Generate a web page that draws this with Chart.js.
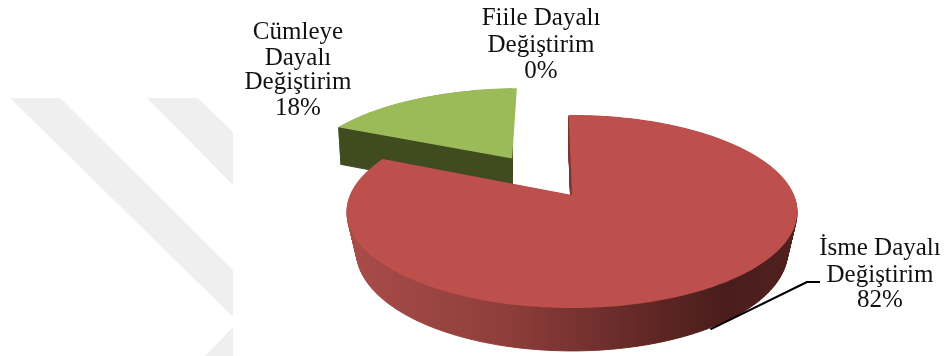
<!DOCTYPE html>
<html><head><meta charset="utf-8">
<style>
html,body{margin:0;padding:0;background:#fff;width:944px;height:356px;overflow:hidden}
#wm{position:absolute;left:0;top:0;filter:blur(.6px)}
#wrap{position:absolute;left:0;top:0;width:944px;height:356px;filter:blur(.35px)}
</style>
<script src="https://cdn.jsdelivr.net/npm/chart.js@4"></script>
</head><body>
<svg id="wm" width="233" height="356" viewBox="0 0 233 356">
<g fill="#efefef">
<polygon points="10,98 60,98 233,270 233,317"/>
<polygon points="147,98 198,98 233,132 233,185"/>
<polygon points="233,327 233,356 205,356"/>
</g></svg>
<div id="wrap"><canvas id="c" width="944" height="356"></canvas></div>
<script>
const categories = [['İsme Dayalı','Değiştirim'],['Cümleye','Dayalı','Değiştirim'],['Fiile Dayalı','Değiştirim']];
const values = [82,18,0];
const topColors = ['#bd504d','#9bbb59','#cccccc'];
const explode = [0,71,0];
const sideNarrowing = [0.957,0.99,1];
const sliceNudgeX = [0,-3,0];

// tilted-disc projection of the pie plane onto the page
const view = {cx:572, cy:195, ax:222, by:93.7, k:0.171, depth:39.3, shrink:0.96};
function project(u,v,t,nx,dx){
  const w = 1 - view.k*v, sx = 1 - (1-nx)*t, sy = 1 - (1-view.shrink)*t;
  return [view.cx + dx + view.ax*sx*u/w, view.cy + (view.by*sy*v + view.depth*t)/w];
}
function apexOf(el){
  const mid = (el.startAngle+el.endAngle)/2, off = (el.options.offset||0)/el.outerRadius;
  return [Math.cos(mid)*off, Math.sin(mid)*off];
}
function wedge(ctx,el,t,nx,dx){
  const [ou,ov] = apexOf(el);
  ctx.beginPath();
  ctx.moveTo(...project(ou,ov,t,nx,dx));
  const n = Math.max(2,Math.ceil((el.endAngle-el.startAngle)*60));
  for(let i=0;i<=n;i++){
    const a = el.startAngle+(el.endAngle-el.startAngle)*i/n;
    ctx.lineTo(...project(ou+Math.cos(a),ov+Math.sin(a),t,nx,dx));
  }
  ctx.closePath();
}
const labelPlaces = [
  {x:880, y:[255,282,307]},
  {x:298, y:[39,65,89,115]},
  {x:541, y:[25,52,78]}
];
const pie3d = {
  id:'pie3d',
  beforeDatasetDraw(chart,args){
    const ctx = chart.ctx, arcs = args.meta.data;
    ctx.save();
    [1,0].forEach(i=>{
      const el = arcs[i], dx = sliceNudgeX[i];
      let side;
      if(i===0){
        side = ctx.createLinearGradient(350,0,790,0);
        side.addColorStop(0,'#a84c49');
        side.addColorStop(.35,'#8f3e3b');
        side.addColorStop(.7,'#5e2624');
        side.addColorStop(.85,'#4a1d1c');
        side.addColorStop(1,'#4f201e');
      } else side = '#414d20';
      ctx.save();
      if(i===1){
        // the far wall of the raised slice stays hidden behind its top face
        const [ou,ov] = apexOf(el), ap = project(ou,ov,0,1,dx);
        ctx.beginPath(); ctx.rect(0,0,ap[0],chart.height); ctx.clip();
      }
      ctx.fillStyle = side;
      ctx.strokeStyle = side; ctx.lineWidth = 1;
      for(let s=40;s>=1;s--){ wedge(ctx,el,s/40,sideNarrowing[i],dx); ctx.fill(); ctx.stroke(); }
      ctx.restore();
      ctx.fillStyle = el.options.backgroundColor;
      wedge(ctx,el,0,1,dx); ctx.fill();
    });
    // leader line from the rim of the largest slice to its label
    const el = arcs[0], mid=(el.startAngle+el.endAngle)/2;
    const p = project(Math.cos(mid),Math.sin(mid),1,sideNarrowing[0],0);
    ctx.strokeStyle='#000'; ctx.lineWidth=2; ctx.lineJoin='round';
    ctx.beginPath(); ctx.moveTo(p[0]+2,p[1]+1); ctx.lineTo(807,282); ctx.lineTo(820,282); ctx.stroke();
    ctx.restore();
    return false;
  },
  afterDatasetsDraw(chart){
    const ctx = chart.ctx;
    ctx.save();
    ctx.fillStyle='#111'; ctx.font='25px "Liberation Serif"';
    ctx.textAlign='center'; ctx.textBaseline='alphabetic';
    categories.forEach((lines,i)=>{
      const all = lines.concat(values[i]+'%'), pl = labelPlaces[i];
      all.forEach((t,j)=>ctx.fillText(t,pl.x,pl.y[j]));
    });
    ctx.restore();
  }
};
new Chart(document.getElementById('c'),{
  type:'pie',
  data:{labels:categories,datasets:[{data:values,backgroundColor:topColors,offset:explode,borderWidth:0}]},
  options:{responsive:false,animation:false,rotation:-1,
    layout:{padding:0},
    plugins:{legend:{display:false},tooltip:{enabled:false}}},
  plugins:[pie3d]
});
</script>
</body></html>
